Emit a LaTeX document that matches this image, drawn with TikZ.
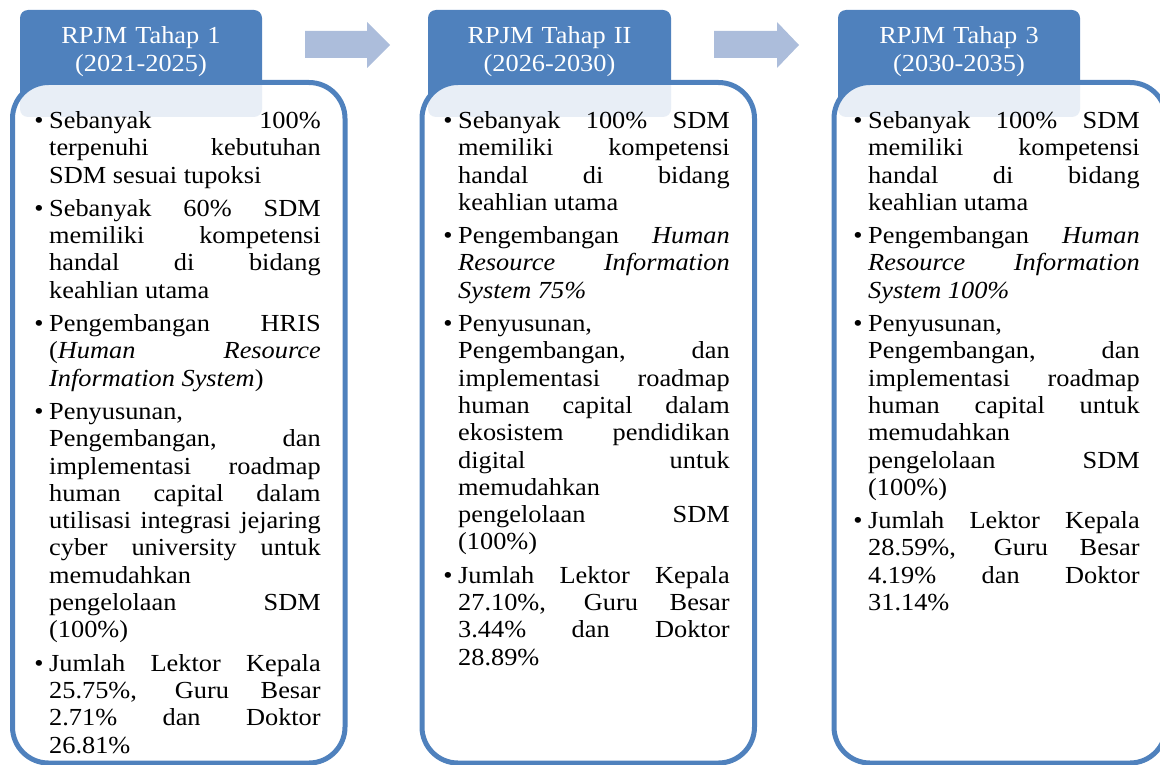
\documentclass[tikz,border=0pt]{standalone}
\usepackage{fontspec}
\setmainfont{Liberation Serif}[FakeStretch=1.075]
\definecolor{hdr}{RGB}{79,129,189}
\definecolor{frm}{RGB}{79,129,189}
\definecolor{arw}{RGB}{172,189,219}
\newlength\tw
\setlength\tw{271.5pt}
\newcommand\jl[1]{{\spaceskip=0pt\xspaceskip=0pt\makebox[\tw][s]{#1}}}
\newcommand\bul{\leavevmode\llap{\textbullet\hspace{5.5pt}}}
\begin{document}
\begin{tikzpicture}[x=1pt,y=-1pt,
  hdrbox/.style={fill=hdr, rounded corners=8pt},
  bodybox/.style={draw=frm, line width=5pt, fill=white, fill opacity=0.87, rounded corners=36pt},
  hdrtext/.style={text=white, font=\fontsize{24.5}{28}\selectfont, text width=242pt, align=center, inner sep=0pt, anchor=base},
  bodytext/.style={font=\fontsize{24.5}{27.3}\selectfont, text width=\tw, align=flush left, inner sep=0pt, anchor=base west},
  blockarrow/.style={fill=arw}]
\useasboundingbox (0,0) rectangle (1160,765);

% block arrows
\fill[blockarrow] (305,31) -- (367,31) -- (367,22) -- (390,45) -- (367,68) -- (367,58) -- (305,58) -- cycle;
\fill[blockarrow] (714,31) -- (777,31) -- (777,22) -- (799,45) -- (777,68) -- (777,58) -- (714,58) -- cycle;

% headers
\fill[hdrbox] (20,10) rectangle (262,117);
\fill[hdrbox] (428,10) rectangle (671,117);
\fill[hdrbox] (838,10) rectangle (1080,117);

% bodies
\draw[bodybox] (12.5,82.5) rectangle (345,763);
\draw[bodybox] (422,82.5) rectangle (754.5,763);
\draw[bodybox] (834,82.5) rectangle (1166,763);

% header texts
\node[hdrtext] (h1) at (141,43.5) {RPJM Tahap 1\\(2021-2025)};
\node[hdrtext] (h2) at (549.5,43.5) {RPJM Tahap II\\(2026-2030)};
\node[hdrtext] (h3) at (959,43.5) {RPJM Tahap 3\\(2030-2035)};

% body texts
\node[bodytext] (t1) at (49,128.5) {%
\bul\jl{Sebanyak 100\%}\\
\jl{terpenuhi kebutuhan}\\
SDM sesuai tupoksi\\[6pt]%
\bul\jl{Sebanyak 60\% SDM}\\
\jl{memiliki kompetensi}\\
\jl{handal di bidang}\\
keahlian utama\\[6pt]%
\bul\jl{Pengembangan HRIS}\\
\jl{(\textit{Human} \textit{Resource}}\\
\textit{Information System})\\[6pt]%
\bul Penyusunan,\\
\jl{Pengembangan, dan}\\
\jl{implementasi roadmap}\\
\jl{human capital dalam}\\
\jl{utilisasi integrasi jejaring}\\
\jl{cyber university untuk}\\
memudahkan\\
\jl{pengelolaan SDM}\\
(100\%)\\[6pt]%
\bul\jl{Jumlah Lektor Kepala}\\
\jl{25.75\%, Guru Besar}\\
\jl{2.71\% dan Doktor}\\
26.81\%};

\node[bodytext] (t2) at (458,128.5) {%
\bul\jl{Sebanyak 100\% SDM}\\
\jl{memiliki kompetensi}\\
\jl{handal di bidang}\\
keahlian utama\\[6pt]%
\bul\jl{Pengembangan \textit{Human}}\\
\jl{\textit{Resource Information}}\\
\textit{System 75\%}\\[6pt]%
\bul Penyusunan,\\
\jl{Pengembangan, dan}\\
\jl{implementasi roadmap}\\
\jl{human capital dalam}\\
\jl{ekosistem pendidikan}\\
\jl{digital untuk}\\
memudahkan\\
\jl{pengelolaan SDM}\\
(100\%)\\[6pt]%
\bul\jl{Jumlah Lektor Kepala}\\
\jl{27.10\%, Guru Besar}\\
\jl{3.44\% dan Doktor}\\
28.89\%};

\node[bodytext] (t3) at (868,128.5) {%
\bul\jl{Sebanyak 100\% SDM}\\
\jl{memiliki kompetensi}\\
\jl{handal di bidang}\\
keahlian utama\\[6pt]%
\bul\jl{Pengembangan \textit{Human}}\\
\jl{\textit{Resource Information}}\\
\textit{System 100\%}\\[6pt]%
\bul Penyusunan,\\
\jl{Pengembangan, dan}\\
\jl{implementasi roadmap}\\
\jl{human capital untuk}\\
memudahkan\\
\jl{pengelolaan SDM}\\
(100\%)\\[6pt]%
\bul\jl{Jumlah Lektor Kepala}\\
\jl{28.59\%, Guru Besar}\\
\jl{4.19\% dan Doktor}\\
31.14\%};
\end{tikzpicture}
\end{document}
